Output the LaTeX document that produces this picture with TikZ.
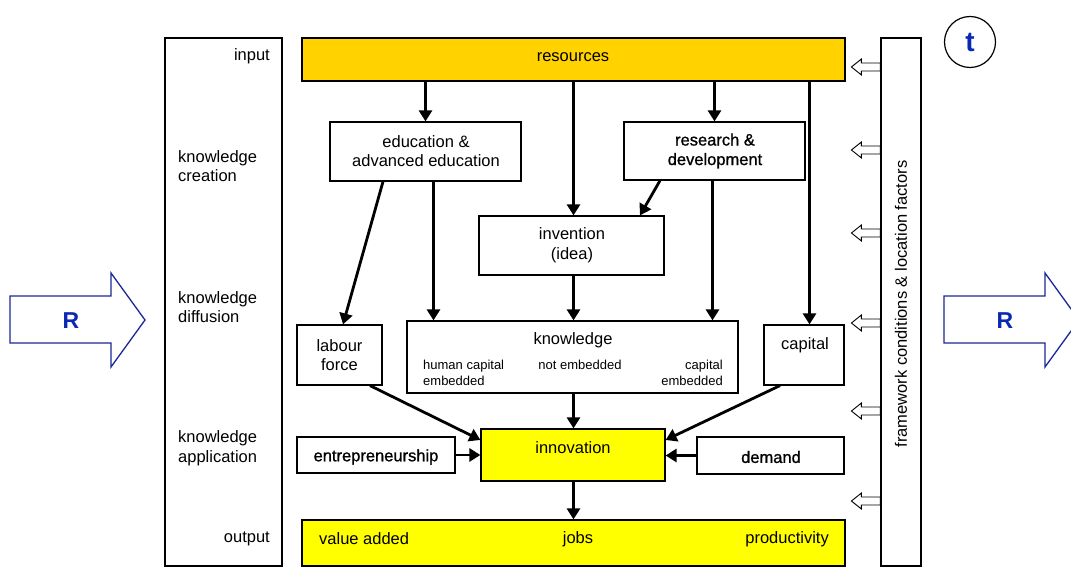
\documentclass[tikz,border=0pt]{standalone}
\usepackage{fontspec}
\setmainfont{Liberation Sans}
\newfontfamily\fbfont{Liberation Sans}[FakeBold=1]
\usetikzlibrary{arrows.meta}
\definecolor{gold}{RGB}{255,210,0}
\definecolor{yel}{RGB}{255,255,0}
\definecolor{rblue}{RGB}{25,40,150}
\definecolor{tblue}{RGB}{10,40,180}
\tikzset{
  box/.style={draw, line width=1.2pt, inner sep=0pt},
  txt/.style={inner sep=0pt, font=\fontsize{16.5}{19.5}\selectfont, align=center},
  smalltxt/.style={inner sep=0pt, font=\fontsize{13}{16}\selectfont},
  flow/.style={line width=2.8pt, -{Triangle[length=11pt,width=13pt]}},
  hollow/.style={draw, line width=0.9pt, fill=white, line join=miter},
  bigarrow/.style={draw=rblue, line width=1.3pt, fill=white, line join=miter},
}
\begin{document}
\begin{tikzpicture}[x=1pt,y=-1pt]
\useasboundingbox (0,0) rectangle (1071,569);
% frames
\node[box, minimum width=117, minimum height=528] (left) at (223.5,302) {};
\node[box, minimum width=40, minimum height=528] (frame) at (901,302) {};
\node[txt, rotate=90] (frametxt) at (901,304) {framework conditions \& location factors};
% stage labels
\node[txt, anchor=east] (linput) at (270,56) {input};
\node[txt, anchor=west, align=left] (lcreat) at (178,166) {knowledge\\creation};
\node[txt, anchor=west, align=left] (ldiff) at (178,307) {knowledge\\diffusion};
\node[txt, anchor=west, align=left] (lappl) at (178,448) {knowledge\\application};
\node[txt, anchor=east] (loutput) at (270,539) {output};
% boxes
\node[box, fill=gold, minimum width=543, minimum height=43] (res) at (573.5,59.5) {};
\node[txt] (restxt) at (573,57) {resources};
\node[box, minimum width=191, minimum height=59] (edu) at (425.5,151.5) {};
\node[txt] (edutxt) at (426,151) {education \&\\advanced education};
\node[box, minimum width=181, minimum height=58] (rd) at (714.5,151) {};
\node[txt, font=\fontsize{16.5}{19.5}\fbfont] (rdtxt) at (715,151) {research \&\\development};
\node[box, minimum width=185, minimum height=59] (inv) at (571.5,245.5) {};
\node[txt] (invtxt) at (572,245) {invention\\(idea)};
\node[box, minimum width=85, minimum height=60] (lab) at (339.5,355) {};
\node[txt] (labtxt) at (339.5,355) {labour\\force};
\node[box, minimum width=331, minimum height=72] (know) at (572.5,357) {};
\node[txt] (knowtxt) at (573,340) {knowledge};
\node[smalltxt, anchor=west, align=left] (hce) at (423,373) {human capital\\embedded};
\node[smalltxt] (ne) at (580,365) {not embedded};
\node[smalltxt, anchor=east, align=right] (ce) at (723,373) {capital\\embedded};
\node[box, minimum width=80, minimum height=60] (cap) at (804,355) {};
\node[txt] (captxt) at (805,345) {capital};
\node[box, fill=yel, minimum width=184, minimum height=52] (inno) at (573,455) {};
\node[txt] (innotxt) at (573,448) {innovation};
\node[box, minimum width=158, minimum height=36] (ent) at (376,455) {};
\node[txt, font=\fontsize{16.5}{19.5}\fbfont] (enttxt) at (376,457) {entrepreneurship};
\node[box, minimum width=147, minimum height=37] (dem) at (770.5,455.5) {};
\node[txt, font=\fontsize{16.5}{19.5}\fbfont] (demtxt) at (771,457) {demand};
\node[box, fill=yel, minimum width=543, minimum height=46] (out) at (573.5,543) {};
\node[txt, anchor=west] (va) at (319,539) {value added};
\node[txt] (jobs) at (578,539) {jobs};
\node[txt, anchor=east] (prod) at (829,539) {productivity};
% flows
\draw[flow] (res.south -| edu.north) -- (edu.north);
\draw[flow] (res.south -| 573.5,0) -- (inv.north -| 573.5,0);
\draw[flow] (res.south -| rd.north) -- (rd.north);
\draw[flow] (res.south -| 809.5,0) -- (cap.north -| 809.5,0);
\draw[flow] (edu.south -| 383,0) -- (lab.north -| 343,0);
\draw[flow] (edu.south -| 433.5,0) -- (know.north -| 433.5,0);
\draw[flow] (rd.south -| 660,0) -- (inv.north -| 640,0);
\draw[flow] (rd.south -| 712.5,0) -- (know.north -| 712.5,0);
\draw[flow] (inv.south -| 573.5,0) -- (know.north -| 573.5,0);
\draw[flow] (lab.south -| 370,0) -- (inno.west |- 0,440);
\draw[flow] (know.south -| 573.5,0) -- (inno.north -| 573.5,0);
\draw[flow] (cap.south -| 780,0) -- (inno.east |- 0,440);
\draw[flow] (ent.east) -- (inno.west |- ent.east);
\draw[flow] (dem.west) -- (inno.east |- dem.west);
\draw[flow] (inno.south -| 573.5,0) -- (out.north -| 573.5,0);
% hollow arrows from framework conditions
\foreach \i/\yy in {1/67,2/150,3/233,4/323,5/411,6/501}{
  \coordinate (h\i) at (frame.west |- 0,\yy);
  \draw[hollow] (h\i) ++(0,-4) -- ++(-19,0) -- ++(0,-4) -- ++(-10,8) -- ++(10,8) -- ++(0,-4) -- ++(19,0) -- cycle;
}
% R arrows
\draw[bigarrow] (10,296) -- (111,296) -- (111,273) -- (145,320) -- (111,367) -- (111,343) -- (10,343) -- cycle;
\node[inner sep=0pt, text=tblue, font=\fontsize{23}{23}\selectfont\bfseries] (rleft) at (71,321) {R};
\draw[bigarrow] (944,296) -- (1045,296) -- (1045,273) -- (1079,320) -- (1045,367) -- (1045,343) -- (944,343) -- cycle;
\node[inner sep=0pt, text=tblue, font=\fontsize{23}{23}\selectfont\bfseries] (rright) at (1005,321) {R};
% time circle
\node[draw, circle, line width=1.2pt, minimum size=51, inner sep=0pt, text=tblue, font=\fontsize{28}{28}\selectfont\bfseries] (t) at (970,42) {t};
\end{tikzpicture}
\end{document}
